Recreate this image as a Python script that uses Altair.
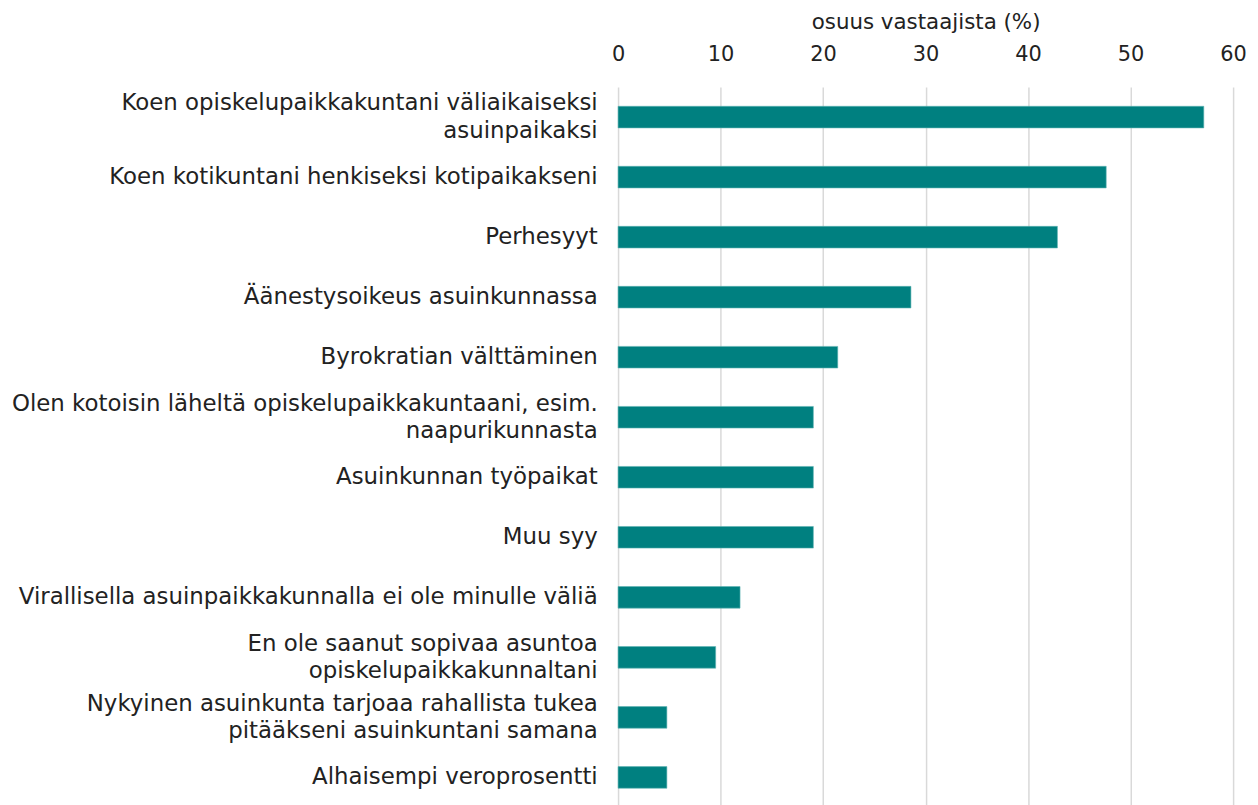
import altair as alt
import pandas as pd

categories = [
    "Koen opiskelupaikkakuntani väliaikaiseksi\nasuinpaikaksi",
    "Koen kotikuntani henkiseksi kotipaikakseni",
    "Perhesyyt",
    "Äänestysoikeus asuinkunnassa",
    "Byrokratian välttäminen",
    "Olen kotoisin läheltä opiskelupaikkakuntaani, esim.\nnaapurikunnasta",
    "Asuinkunnan työpaikat",
    "Muu syy",
    "Virallisella asuinpaikkakunnalla ei ole minulle väliä",
    "En ole saanut sopivaa asuntoa\nopiskelupaikkakunnaltani",
    "Nykyinen asuinkunta tarjoaa rahallista tukea\npitääkseni asuinkuntani samana",
    "Alhaisempi veroprosentti",
]
values = [57.14, 47.62, 42.86, 28.57, 21.43, 19.05, 19.05, 19.05, 11.90, 9.52, 4.76, 4.76]
x_ticks = [0, 10, 20, 30, 40, 50, 60]
x_title = "osuus vastaajista (%)"

df = pd.DataFrame({"syy": categories, "osuus": values})

FONT = "DejaVu Sans"
LINE_H = 27.5

chart = (
    alt.Chart(df)
    .mark_bar(color="#008080", stroke="#5fb3b3", strokeWidth=0.6)
    .encode(
        x=alt.X(
            "osuus:Q",
            scale=alt.Scale(domain=[0, 60], nice=False),
            axis=alt.Axis(
                orient="top",
                values=x_ticks,
                title=x_title,
                ticks=False,
                domain=False,
                grid=True,
                gridColor="#d9d9d9",
                gridWidth=1.5,
                labelFlush=False,
                labelFont=FONT,
                labelFontSize=21,
                labelColor="#222222",
                labelPadding=23,
                titleFont=FONT,
                titleFontSize=21.5,
                titleFontWeight="normal",
                titleColor="#222222",
                titlePadding=10,
            ),
        ),
        y=alt.Y(
            "syy:N",
            sort=categories,
            scale=alt.Scale(paddingInner=0.64, paddingOuter=0.32),
            axis=alt.Axis(
                title=None,
                ticks=False,
                domain=False,
                grid=False,
                labelFont=FONT,
                labelFontSize=23,
                labelColor="#222222",
                labelPadding=21,
                labelLimit=800,
                labelLineHeight=LINE_H,
                labelExpr="split(datum.value, '\\n')",
                labelOffset={
                    "condition": {
                        "test": "indexof(datum.value, '\\n') >= 0",
                        "value": -LINE_H / 2,
                    },
                    "value": 0,
                },
            ),
        ),
    )
    .properties(
        width=619,
        height=725,
        autosize=alt.AutoSizeParams(type="none"),
        padding={"left": 614, "top": 77, "right": 17, "bottom": 0},
    )
    .configure_view(stroke=None)
)

chart.save("out.html", embed_options={"renderer": "svg", "actions": False})
